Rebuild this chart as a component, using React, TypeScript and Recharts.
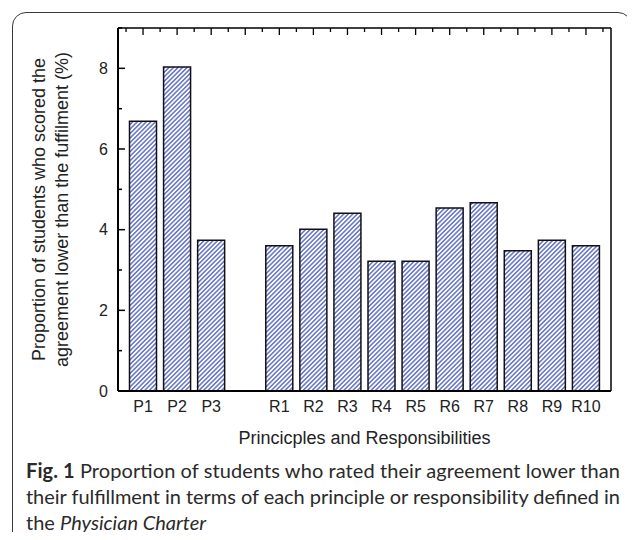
import React from 'react';
import { BarChart, Bar, XAxis, YAxis, Label } from 'recharts';

const categories = ['P1', 'P2', 'P3', ' ', 'R1', 'R2', 'R3', 'R4', 'R5', 'R6', 'R7', 'R8', 'R9', 'R10'];
const proportions = [6.69, 8.03, 3.74, null, 3.6, 4.01, 4.41, 3.22, 3.22, 4.54, 4.67, 3.48, 3.74, 3.6];
const yTicks = [0, 1, 2, 3, 4, 5, 6, 7, 8, 9];

const data = categories.map((name, i) => ({ name, value: proportions[i] }));

const axisFont = '"Liberation Sans", Arial, sans-serif';
const captionFont = 'Lato, "Open Sans", sans-serif';
const HALF_BAND = 17;

const LeftTick = (props: any) => {
  const { x, y, payload } = props;
  const major = payload.value % 2 === 0;
  return (
    <g>
      <line x1={x} x2={x + (major ? 7 : 4)} y1={y} y2={y} stroke="#000" strokeWidth={1.5} />
      {major && (
        <text x={x - 10} y={y} dy="0.35em" textAnchor="end" fontSize={16} fill="#222" fontFamily={axisFont}>
          {payload.value}
        </text>
      )}
    </g>
  );
};

const RightTick = (props: any) => {
  const { x, y, payload } = props;
  const major = payload.value % 2 === 0;
  return <line x1={x} x2={x - (major ? 7 : 4)} y1={y} y2={y} stroke="#000" strokeWidth={1.5} />;
};

const TopTick = (props: any) => {
  const { x, y, index } = props;
  return (
    <g stroke="#000" strokeWidth={1.3}>
      <line x1={x} x2={x} y1={y} y2={y + 7} />
      <line x1={x - HALF_BAND} x2={x - HALF_BAND} y1={y} y2={y + 4} />
      {index === categories.length - 1 && <line x1={x + HALF_BAND} x2={x + HALF_BAND} y1={y} y2={y + 4} />}
    </g>
  );
};

const YTitle = (props: any) => {
  const { viewBox } = props;
  const cy = viewBox.y + viewBox.height / 2;
  return (
    <g fontFamily={axisFont} fontSize={18} fill="#222" textAnchor="middle">
      <text transform={`translate(45, ${cy}) rotate(-90)`}>Proportion of students who scored the</text>
      <text transform={`translate(68, ${cy}) rotate(-90)`}>agreement lower than the fuffilment (%)</text>
    </g>
  );
};

export default function App() {
  return (
    <div style={{ position: 'relative', width: 635, height: 540, margin: -8, overflow: 'hidden', background: '#fff' }}>
      <div
        style={{
          position: 'absolute',
          left: 12,
          top: 12,
          width: 620,
          height: 600,
          border: '1.6px solid #3a3a3a',
          borderRadius: 14,
          boxSizing: 'border-box',
        }}
      />
      <div style={{ position: 'absolute', left: 0, top: 0 }}>
        <BarChart
          width={635}
          height={460}
          data={data}
          margin={{ top: 27, right: 23, left: 0, bottom: 39 }}
          barCategoryGap={3.5}
        >
          <defs>
            <pattern id="hatch" patternUnits="userSpaceOnUse" width={3.2} height={3.2} patternTransform="rotate(45)">
              <rect width={3.2} height={3.2} fill="#fff" />
              <line x1={0.8} y1={0} x2={0.8} y2={3.2} stroke="#3a4fb8" strokeWidth={1.2} />
            </pattern>
          </defs>
          <XAxis
            xAxisId="bottom"
            dataKey="name"
            height={30}
            padding={{ left: 8, right: 8 }}
            tickLine={false}
            tickSize={0}
            tickMargin={10}
            axisLine={{ stroke: '#000', strokeWidth: 2 }}
            tick={{ fontSize: 16, fill: '#222', fontFamily: axisFont }}
            interval={0}
          >
            <Label
              value="Princicples and Responsibilities"
              position="insideBottom"
              offset={-23}
              style={{ fontSize: 18, fill: '#222', fontFamily: axisFont }}
            />
          </XAxis>
          <XAxis
            xAxisId="top"
            orientation="top"
            dataKey="name"
            height={1}
            padding={{ left: 8, right: 8 }}
            tickLine={false}
            tickSize={0}
            tickMargin={0}
            interval={0}
            axisLine={{ stroke: '#000', strokeWidth: 1.3 }}
            tick={<TopTick />}
          />
          <YAxis
            yAxisId="left"
            width={118}
            domain={[0, 9]}
            ticks={yTicks}
            interval={0}
            tickLine={false}
            tickSize={0}
            tickMargin={0}
            axisLine={{ stroke: '#000', strokeWidth: 2 }}
            tick={<LeftTick />}
          >
            <Label content={<YTitle />} />
          </YAxis>
          <YAxis
            yAxisId="right"
            orientation="right"
            width={1}
            domain={[0, 9]}
            ticks={yTicks}
            interval={0}
            tickLine={false}
            tickSize={0}
            tickMargin={0}
            axisLine={{ stroke: '#000', strokeWidth: 1.5 }}
            tick={<RightTick />}
          />
          <Bar
            xAxisId="bottom"
            yAxisId="left"
            dataKey="value"
            fill="url(#hatch)"
            stroke="#111"
            strokeWidth={1.5}
            isAnimationActive={false}
          />
        </BarChart>
      </div>
      <svg width={635} height={540} style={{ position: 'absolute', left: 0, top: 0, pointerEvents: 'none' }}>
        <g fontFamily={captionFont} fontSize={20} fill="#2a2a2a">
          <text x={26} y={478} textLength={594} lengthAdjust="spacing">
            <tspan fontWeight="bold">Fig. 1</tspan> Proportion of students who rated their agreement lower than
          </text>
          <text x={26} y={504} textLength={594} lengthAdjust="spacing">
            their fulfillment in terms of each principle or responsibility defined in
          </text>
          <text x={26} y={530}>
            the <tspan fontStyle="italic">Physician Charter</tspan>
          </text>
        </g>
      </svg>
    </div>
  );
}
